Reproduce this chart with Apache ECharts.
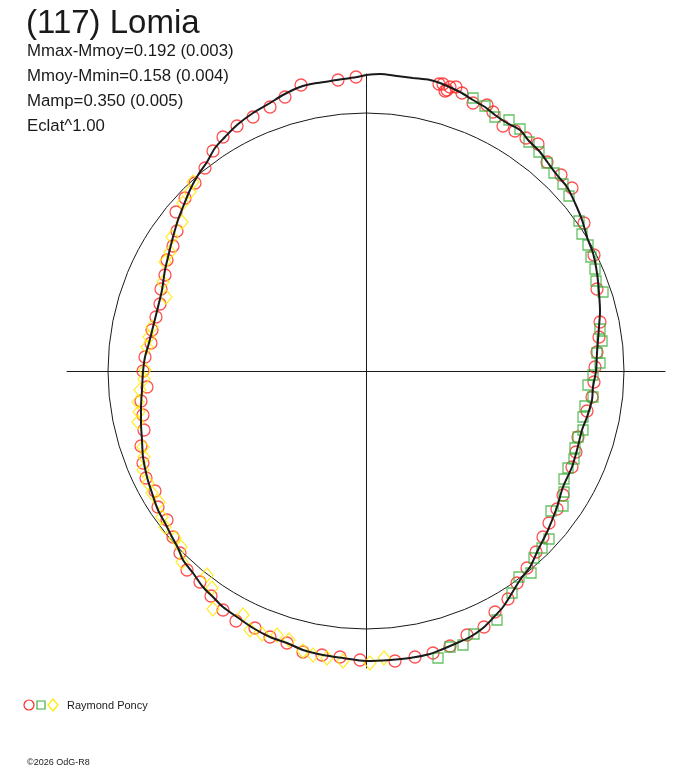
<!DOCTYPE html>
<html><head><meta charset="utf-8">
<script src="https://cdn.jsdelivr.net/npm/echarts@6/dist/echarts.min.js"></script>
<style>html,body{margin:0;padding:0;background:#fff}#c{width:688px;height:768px}</style>
</head><body><div id="c"></div>
<script>
// Title and statistics
const TITLE = '(117) Lomia';
const STATS = ['Mmax-Mmoy=0.192 (0.003)', 'Mmoy-Mmin=0.158 (0.004)', 'Mamp=0.350 (0.005)', 'Eclat^1.00'];
const OBSERVER = 'Raymond Poncy';
const COPYRIGHT = '\u00a92026 OdG-R8';
// Reference circle radius (same units as the points)
const REF_R = 258;
// Fitted polar light curve (x, y)
const CURVE_PTS = [[0,296],[14,297],[31,295],[47,293],[64,291],[74,288],[94,279],[107,271],[119,264],[129,256],[141,248],[154,241],[163,230],[174,219],[182,208],[191,196],[201,184],[209,168],[216,151],[222,131],[227,118],[231,98],[233,78],[234,60],[233,44],[232,31],[231,18],[230,0],[227,-16],[226,-29],[221,-46],[216,-59],[211,-79],[206,-96],[197,-116],[191,-136],[182,-159],[172,-179],[164,-196],[154,-209],[146,-222],[137,-236],[127,-247],[117,-257],[104,-266],[91,-272],[77,-278],[64,-283],[44,-287],[24,-289],[0,-290],[-23,-287],[-43,-284],[-63,-279],[-79,-272],[-96,-266],[-113,-257],[-129,-246],[-143,-236],[-153,-226],[-163,-216],[-173,-202],[-183,-189],[-188,-177],[-194,-166],[-201,-152],[-208,-139],[-214,-122],[-219,-106],[-223,-86],[-224,-69],[-225,-52],[-225,-36],[-224,-19],[-223,-1],[-221,14],[-217,28],[-213,44],[-208,64],[-204,81],[-201,101],[-197,118],[-193,134],[-188,151],[-183,164],[-176,181],[-168,196],[-159,209],[-151,223],[-141,234],[-129,246],[-113,258],[-96,268],[-83,276],[-66,284],[-49,288],[-29,291],[-9,294],[0,296]];
// Observations, session 1 (red circles)
const RED_PTS = [[-10,294],[-28,291],[-65,286],[-81,274],[-96,264],[-113,254],[-129,245],[-143,234],[-153,220],[-161,203],[-171,188],[-181,173],[-190,159],[-189,140],[-193,125],[-199,111],[-201,96],[-205,82],
[-206,67],[-210,54],[-214,41],[-215,28],[-221,14],[-223,0],[-219,-16],[-225,-30],[-223,-44],[-222,-59],[-225,-75],[-223,-92],[-220,-107],[-211,-120],[-208,-136],[-199,-149],[-193,-166],
[-186,-182],[-179,-199],[-166,-211],[-155,-225],[-143,-239],[-130,-250],[-111,-257],[-96,-266],[-79,-272],[-63,-281],[-44,-284],[-26,-286],[-6,-289],[29,-290],
[49,-286],[67,-282],[84,-275],[101,-264],[118,-256],[129,-241],[142,-228],[151,-212],[161,-197],[170,-181],[177,-166],[183,-152],[191,-138],[197,-124],[206,-96],[210,-81],[212,-66],
[221,-40],[226,-26],[228,-11],[229,4],[231,19],[233,34],[234,49],
[231,82],[228,116],[218,148],[206,183],[195,196],[181,209],[172,227],[160,233],[149,240],[137,245],[127,259],[121,266],[107,268],[96,278],[79,280],[90,284],[84,284],[77,287],[73,287],[81,281]];
// Observations, session 2 (green squares)
const GREEN_PTS = [[107,273],[119,265],[129,254],[143,251],[154,242],[163,229],[173,219],[181,208],[188,198],[197,187],[203,175],[213,150],[216,137],[222,126],[225,114],[229,102],[230,90],[237,79],
[234,42],[236,30],[231,18],[234,8],[227,-4],[222,-14],[227,-26],[219,-35],[217,-46],
[217,-59],[212,-66],[209,-77],[208,-88],[202,-97],[198,-108],[198,-121],[197,-135],[185,-140],[183,-168],[176,-177],[168,-187],[165,-202],[153,-206],[146,-222],[131,-249],[108,-263],[97,-274],[84,-276],[72,-287]];
// Observations, session 3 (yellow diamonds)
const YELLOW_PTS = [[-173,189],[-176,179],[-183,168],[-184,149],[-194,134],[-196,119],[-201,109],[-203,89],[-200,74],
[-214,44],[-217,34],[-219,24],[-221,1],[-222,-8],[-226,-19],[-228,-31],[-227,-41],[-228,-51],[-223,-76],[-222,-86],[-223,-99],[-218,-112],[-214,-122],[-207,-131],[-204,-146],[-201,-156],
[-191,-167],[-185,-176],[-184,-191],[-159,-204],[-154,-217],[-153,-238],[-123,-244],[-116,-259],[-104,-263],[-89,-264],[-77,-269],[-63,-280],[-53,-284],[-39,-287],[-23,-290],[4,-292],[18,-287]];

const RED = '#ff2626', GREEN = '#3fb03f', YELLOW = '#ffea00', INK = '#1a1a1a';
const FONT = '"Liberation Sans", Arial, sans-serif';

const chart = echarts.init(document.getElementById('c'), null, {renderer: 'canvas'});
const axisCommon = {
  type: 'value', axisTick: {show: false}, axisLabel: {show: false}, splitLine: {show: false},
  axisLine: {show: true, onZero: true, lineStyle: {color: INK, width: 1}}
};
chart.setOption({
  animation: false,
  backgroundColor: '#ffffff',
  grid: {left: 67, top: 74, width: 598, height: 594, containLabel: false},
  xAxis: Object.assign({min: -299, max: 299}, axisCommon),
  yAxis: Object.assign({min: -297, max: 297}, axisCommon),
  series: [
    {type: 'scatter', data: RED_PTS, symbol: 'circle', symbolSize: 12, z: 3,
     itemStyle: {color: 'rgba(0,0,0,0)', borderColor: RED, borderWidth: 1.3}},
    {type: 'scatter', data: GREEN_PTS, symbol: 'rect', symbolSize: 10, z: 3,
     itemStyle: {color: 'rgba(0,0,0,0)', borderColor: GREEN, borderWidth: 1.3}},
    {type: 'scatter', data: YELLOW_PTS, symbol: 'diamond', symbolSize: [12, 14], z: 3,
     itemStyle: {color: 'rgba(0,0,0,0)', borderColor: YELLOW, borderWidth: 1.3}},
    {type: 'line', data: CURVE_PTS, smooth: 0.3, showSymbol: false, z: 4,
     lineStyle: {color: INK, width: 2}}
  ]
});

const c0 = chart.convertToPixel({gridIndex: 0}, [0, 0]);
const cr = chart.convertToPixel({gridIndex: 0}, [REF_R, 0]);
const graphics = [
  {type: 'circle', silent: true, z: 2, shape: {cx: c0[0], cy: c0[1], r: cr[0] - c0[0]},
   style: {fill: 'none', stroke: INK, lineWidth: 1}},
  {type: 'text', x: 26, y: 24, style: {text: TITLE, font: '33px ' + FONT, fill: INK, verticalAlign: 'middle'}}
];
STATS.forEach((s, i) => graphics.push({type: 'text', x: 27, y: 51 + i * 25,
  style: {text: s, font: '16.8px ' + FONT, fill: INK, verticalAlign: 'middle'}}));
graphics.push(
  {type: 'circle', shape: {cx: 29, cy: 705, r: 5}, style: {fill: 'none', stroke: RED, lineWidth: 1.2}},
  {type: 'rect', shape: {x: 37, y: 701, width: 8, height: 8}, style: {fill: 'none', stroke: GREEN, lineWidth: 1.2}},
  {type: 'polygon', shape: {points: [[53, 699], [58, 705], [53, 711], [48, 705]]}, style: {fill: 'none', stroke: YELLOW, lineWidth: 1.2}},
  {type: 'text', x: 67, y: 706, style: {text: OBSERVER, font: '11px ' + FONT, fill: INK, verticalAlign: 'middle'}},
  {type: 'text', x: 27, y: 763, style: {text: COPYRIGHT, font: '9px ' + FONT, fill: INK, verticalAlign: 'middle'}}
);
chart.setOption({graphic: graphics});
</script></body></html>
